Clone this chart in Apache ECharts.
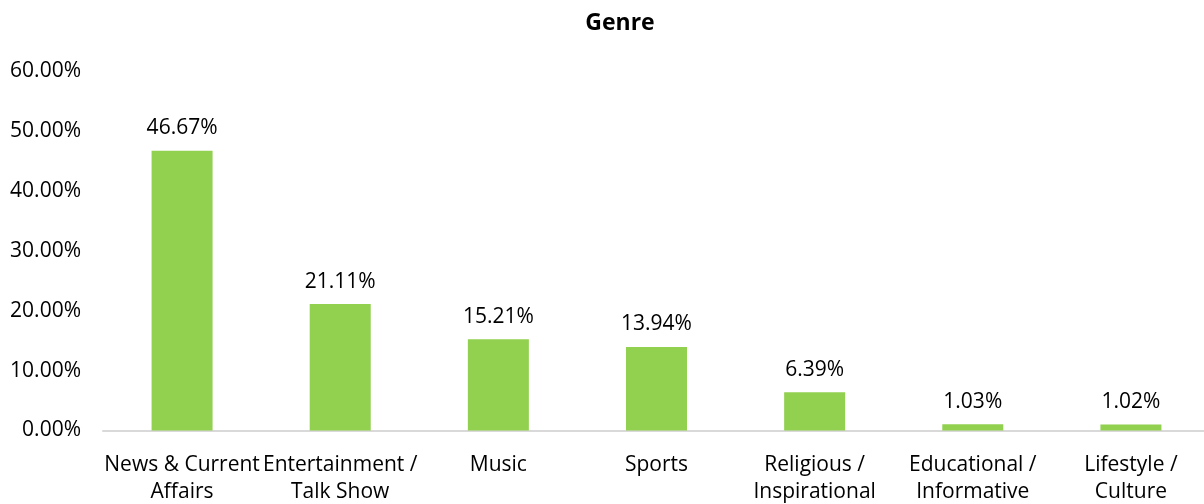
<!DOCTYPE html>
<html>
<head>
<meta charset="utf-8">
<title>Genre</title>
<script src="https://cdn.jsdelivr.net/npm/echarts@6/dist/echarts.min.js"></script>
<style>
  html, body { margin: 0; padding: 0; background: #ffffff; }
  #chart { width: 1204px; height: 504px; }
</style>
</head>
<body>
<div id="chart"></div>
<script>
// Share of listeners by preferred genre (percent)
const categories = [
  'News & Current\nAffairs',
  'Entertainment /\nTalk Show',
  'Music',
  'Sports',
  'Religious /\nInspirational',
  'Educational /\nInformative',
  'Lifestyle /\nCulture'
];
const shares = [46.67, 21.11, 15.21, 13.94, 6.39, 1.03, 1.02];
const yTicks = { min: 0, max: 60, interval: 10 };

const FONT = '"Open Sans", "Liberation Sans", sans-serif';

const chart = echarts.init(document.getElementById('chart'), null, { renderer: 'canvas' });

chart.setOption({
  animation: false,
  backgroundColor: '#ffffff',
  title: {
    text: 'Genre',
    left: 615,
    top: 7,
    textAlign: 'center',
    textStyle: { fontFamily: FONT, fontSize: 23, fontWeight: 'bold', color: '#000000' }
  },
  // the category band runs slightly past the right edge of the canvas
  grid: {
    left: 103, top: 71, right: -6, bottom: 73.5,
    containLabel: false,
    outerBoundsMode: 'none'
  },
  xAxis: {
    type: 'category',
    data: categories,
    axisLine: { show: true, lineStyle: { color: '#d9d9d9', width: 2 } },
    axisTick: { show: false },
    axisLabel: {
      interval: 0,
      margin: 21,
      fontFamily: FONT,
      fontSize: 21,
      lineHeight: 27,
      color: '#000000'
    }
  },
  yAxis: {
    type: 'value',
    min: yTicks.min,
    max: yTicks.max,
    interval: yTicks.interval,
    axisLine: { show: false },
    axisTick: { show: false },
    splitLine: { show: false },
    axisLabel: {
      margin: 22,
      fontFamily: FONT,
      fontSize: 21,
      color: '#000000',
      formatter: v => v.toFixed(2) + '%'
    }
  },
  series: [{
    type: 'bar',
    data: shares,
    barWidth: 61,
    itemStyle: { color: '#92d050' },
    label: {
      show: true,
      position: 'top',
      distance: 12,
      fontFamily: FONT,
      fontSize: 21,
      color: '#000000',
      formatter: p => p.value.toFixed(2) + '%'
    }
  }]
});
</script>
</body>
</html>
